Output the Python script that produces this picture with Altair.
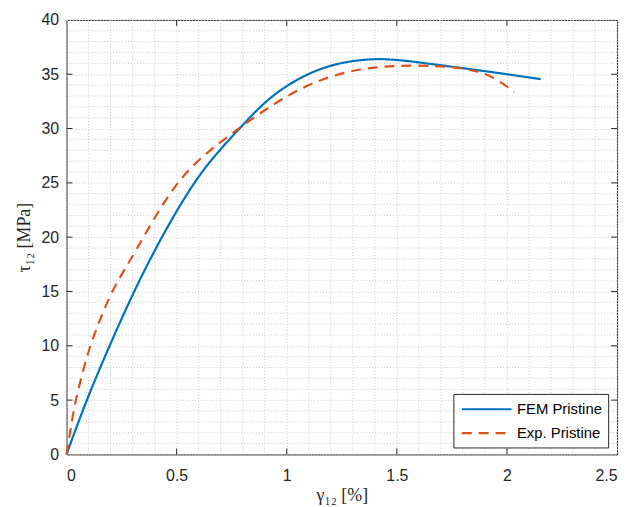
import altair as alt
import pandas as pd

# ---- data ----
series_names = ["FEM Pristine", "Exp. Pristine"]

fem_gamma = [0, 0.09, 0.195, 0.305, 0.43, 0.575, 0.68, 0.79, 0.914, 1.064,
             1.215, 1.38, 1.5, 1.635, 1.86, 2.0, 2.153]
fem_tau = [0, 5.0, 10.0, 15.0, 20.0, 25.0, 27.7, 30.1, 32.8, 34.8,
           36.0, 36.45, 36.35, 36.0, 35.4, 35.0, 34.55]

exp_gamma = [0, 0.02, 0.04, 0.095, 0.14, 0.2, 0.26, 0.33, 0.4, 0.48, 0.57,
             0.67, 0.8, 0.914, 1.05, 1.215, 1.395, 1.59, 1.77, 1.86, 1.935, 2.033]
exp_tau = [0, 2.5, 5.0, 9.3, 11.8, 14.8, 16.9, 19.3, 21.8, 24.4, 26.6,
           28.3, 30.3, 31.9, 33.6, 35.0, 35.7, 35.85, 35.65, 35.3, 34.8, 33.4]

x_ticks = [0, 0.5, 1, 1.5, 2, 2.5]
y_ticks = [0, 5, 10, 15, 20, 25, 30, 35, 40]
x_minor = [0.1, 0.2, 0.3, 0.4, 0.6, 0.7, 0.8, 0.9, 1.1, 1.2, 1.3, 1.4,
           1.6, 1.7, 1.8, 1.9, 2.1, 2.2, 2.3, 2.4]
y_minor = [1, 2, 3, 4, 6, 7, 8, 9, 11, 12, 13, 14, 16, 17, 18, 19, 21, 22, 23, 24,
           26, 27, 28, 29, 31, 32, 33, 34, 36, 37, 38, 39]

# ---- build tables ----
df = pd.concat([
    pd.DataFrame({"gamma": fem_gamma, "tau": fem_tau, "series": series_names[0], "order": range(len(fem_gamma))}),
    pd.DataFrame({"gamma": exp_gamma, "tau": exp_tau, "series": series_names[1], "order": range(len(exp_gamma))}),
])
xmin_df = pd.DataFrame({"gamma": x_minor})
ymin_df = pd.DataFrame({"tau": y_minor})
xt_df = pd.DataFrame({"gamma": x_ticks[1:-1]})
yt_df = pd.DataFrame({"tau": y_ticks[1:-1]})

W, H = 555, 438
AX = "#262626"
GRID = "#c9c9c9"
TICK = 6

xscale = alt.Scale(domain=[0, 2.5], nice=False, zero=False)
yscale = alt.Scale(domain=[0, 40], nice=False, zero=False)
x_axis = alt.Axis(values=x_ticks, title="γ₁₂ [%]", format="~g")
y_axis = alt.Axis(values=y_ticks, title="τ₁₂ [MPa]", format="~g")
X = alt.X("gamma:Q", scale=xscale, axis=x_axis)
Y = alt.Y("tau:Q", scale=yscale, axis=y_axis)

grid_x = alt.Chart(xmin_df).mark_rule(color=GRID, strokeDash=[1, 2], strokeWidth=1).encode(x=X)
grid_y = alt.Chart(ymin_df).mark_rule(color=GRID, strokeDash=[1, 2], strokeWidth=1).encode(y=Y)

leg = alt.Legend(title=None)
lines = alt.Chart(df).mark_line(strokeWidth=2.2, interpolate="basis").encode(
    x=X, y=Y,
    color=alt.Color("series:N", scale=alt.Scale(domain=series_names, range=["#0072BD", "#D95319"]),
                    legend=leg),
    strokeDash=alt.StrokeDash("series:N", scale=alt.Scale(domain=series_names, range=[[1, 0], [10, 7]]),
                              legend=leg),
    order="order:Q",
)

tick_bottom = alt.Chart(xt_df).mark_rule(color=AX, strokeWidth=1).encode(
    x=X, y=alt.value(H), y2=alt.value(H - TICK))
tick_top = alt.Chart(xt_df).mark_rule(color=AX, strokeWidth=1).encode(
    x=X, y=alt.value(0), y2=alt.value(TICK))
tick_left = alt.Chart(yt_df).mark_rule(color=AX, strokeWidth=1).encode(
    y=Y, x=alt.value(0), x2=alt.value(TICK))
tick_right = alt.Chart(yt_df).mark_rule(color=AX, strokeWidth=1).encode(
    y=Y, x=alt.value(W), x2=alt.value(W - TICK))

chart = alt.layer(grid_x, grid_y, lines, tick_bottom, tick_top, tick_left, tick_right).properties(
    width=W, height=H,
    autosize=alt.AutoSizeParams(type="none"),
    padding={"left": 59, "top": 10, "right": 10, "bottom": 52},
).configure_view(
    stroke=AX, strokeWidth=1
).configure_axis(
    domain=False, ticks=False,
    grid=True, gridColor=GRID, gridDash=[1, 2], gridWidth=1,
    labelFont="Liberation Sans", labelFontSize=16, labelColor=AX,
    titleFont="Liberation Serif", titleFontSize=18, titleColor=AX, titleFontWeight="normal",
).configure_axisX(
    labelPadding=13, titlePadding=3
).configure_axisY(
    labelPadding=8, titlePadding=8
).configure_legend(
    orient="none", legendX=390, legendY=377,
    strokeColor=AX, fillColor="white", padding=6, cornerRadius=0,
    symbolType="M-3.125,0H3.125", symbolSize=256, symbolStrokeWidth=2.2, symbolOffset=18,
    labelFont="Liberation Sans", labelFontSize=15, labelColor="black",
    labelOffset=21, rowPadding=6,
)

chart.save("out.html", embed_options={"renderer": "svg", "actions": False})
